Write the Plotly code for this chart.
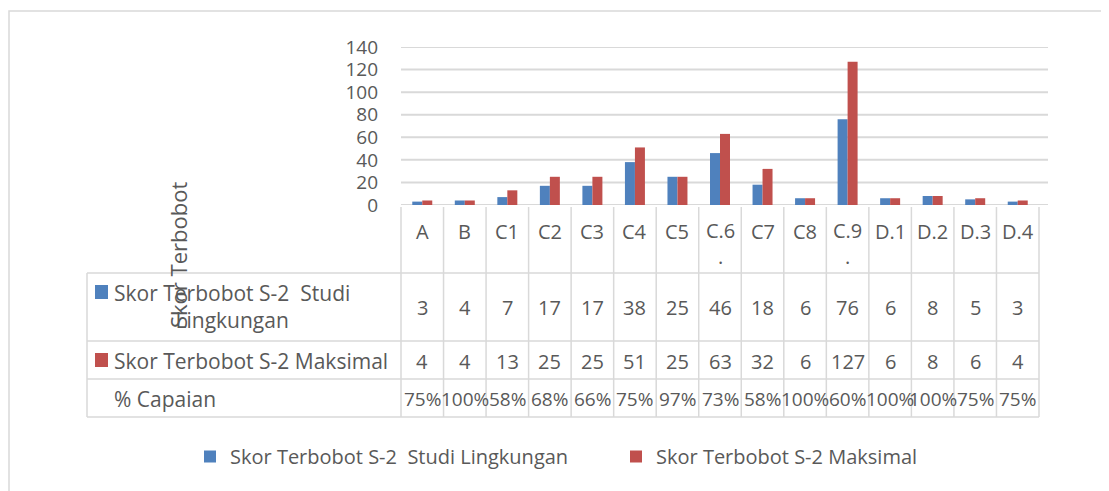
import plotly.graph_objects as go

categories = ["A", "B", "C1", "C2", "C3", "C4", "C5", "C.6<br>.", "C7", "C8", "C.9<br>.", "D.1", "D.2", "D.3", "D.4"]
studi = [3, 4, 7, 17, 17, 38, 25, 46, 18, 6, 76, 6, 8, 5, 3]
maksimal = [4, 4, 13, 25, 25, 51, 25, 63, 32, 6, 127, 6, 8, 6, 4]
capaian = ["75%", "100%", "58%", "68%", "66%", "75%", "97%", "73%", "58%", "100%", "60%", "100%", "100%", "75%", "75%"]
series_names = ["Skor Terbobot S-2  Studi Lingkungan", "Skor Terbobot S-2 Maksimal"]
row_labels = ["Skor Terbobot S-2  Studi<br>Lingkungan", "Skor Terbobot S-2 Maksimal", "% Capaian"]
y_title = "Skor Terbobot"
y_ticks = [0, 20, 40, 60, 80, 100, 120, 140]

BLUE = "#4F81BD"
RED = "#C0504D"
GRID = "#D9D9D9"
TXT = "#595959"
FONT = "Open Sans, Liberation Sans, sans-serif"

OFF = 8              # browser body margin
W, H = 1109 - OFF, 491 - OFF
X0, X1 = 401, 1039   # plot area left/right (reference px)
Y0, Y1 = 205, 47     # y=0 and y=140 (reference px)

def px(x):
    return (x - X0) / (X1 - X0)

def py(y):
    return (Y0 - y) / (Y0 - Y1)

n = len(categories)
xs = list(range(n))

fig = go.Figure()
fig.add_trace(go.Bar(x=xs, y=studi, name=series_names[0], marker=dict(color=BLUE, line=dict(width=0))))
fig.add_trace(go.Bar(x=xs, y=maksimal, name=series_names[1], marker=dict(color=RED, line=dict(width=0))))

shapes = []
annotations = []
line_style = dict(color=GRID, width=1.5)

# chart border
shapes.append(dict(type="rect", xref="paper", yref="paper", x0=px(9), x1=px(1120), y0=py(11), y1=py(500),
                   line=dict(color=GRID, width=1.5), layer="below"))

# gridlines (incl. 3D back wall depth to the right)
for t in y_ticks:
    shapes.append(dict(type="line", xref="paper", yref="y", x0=0, x1=px(1048), y0=t, y1=t,
                       line=dict(color=GRID, width=2), layer="below"))

# table vertical lines
colw = (X1 - X0) / n
for k in range(n + 1):
    xx = X0 + k * colw
    shapes.append(dict(type="line", xref="paper", yref="paper", x0=px(xx), x1=px(xx), y0=py(207), y1=py(417), line=line_style))
# table horizontal lines
for yy in [273, 341, 379, 417]:
    shapes.append(dict(type="line", xref="paper", yref="paper", x0=px(87), x1=px(X1), y0=py(yy), y1=py(yy), line=line_style))
shapes.append(dict(type="line", xref="paper", yref="paper", x0=px(87), x1=px(87), y0=py(273), y1=py(417), line=line_style))

# table legend keys
shapes.append(dict(type="rect", xref="paper", yref="paper", x0=px(95), x1=px(108), y0=py(285), y1=py(299), fillcolor=BLUE, line=dict(width=0)))
shapes.append(dict(type="rect", xref="paper", yref="paper", x0=px(95), x1=px(108), y0=py(353), y1=py(367), fillcolor=RED, line=dict(width=0)))

tf = dict(family=FONT, size=20, color=TXT)
for i, c in enumerate(categories):
    yy = 243 if "<br>" in c else 231
    annotations.append(dict(x=i, xref="x", xanchor="center", y=py(yy), yref="paper", yanchor="middle",
                            text=c, showarrow=False, font=tf, align="center"))
    annotations.append(dict(x=i, xref="x", xanchor="center", y=py(307), yref="paper", yanchor="middle",
                            text=str(studi[i]), showarrow=False, font=tf))
    annotations.append(dict(x=i, xref="x", xanchor="center", y=py(361), yref="paper", yanchor="middle",
                            text=str(maksimal[i]), showarrow=False, font=tf))
    annotations.append(dict(x=i, xref="x", xanchor="center", y=py(399), yref="paper", yanchor="middle",
                            text=capaian[i], showarrow=False, font=dict(family=FONT, size=19, color=TXT)))

lf = dict(family=FONT, size=21, color=TXT)
annotations.append(dict(x=px(112), xref="paper", xanchor="left", y=py(306), yref="paper", yanchor="middle",
                        text=row_labels[0], showarrow=False, font=lf, align="center"))
annotations.append(dict(x=px(112), xref="paper", xanchor="left", y=py(361), yref="paper", yanchor="middle",
                        text=row_labels[1], showarrow=False, font=lf))
annotations.append(dict(x=px(112), xref="paper", xanchor="left", y=py(399), yref="paper", yanchor="middle",
                        text=row_labels[2], showarrow=False, font=lf))
annotations.append(dict(x=px(178), xref="paper", xanchor="center", y=py(255), yref="paper", yanchor="middle",
                        text=y_title, textangle=-90, showarrow=False, font=dict(family=FONT, size=22, color=TXT)))

fig.update_layout(
    width=W, height=H,
    margin=dict(l=X0 - OFF, r=W - (X1 - OFF), t=Y1 - OFF, b=H - (Y0 - OFF), pad=0),
    paper_bgcolor="white", plot_bgcolor="white",
    barmode="group", bargap=0.53, bargroupgap=0,
    font=dict(family=FONT, color=TXT),
    xaxis=dict(range=[-0.5, n - 0.5], showticklabels=False, showgrid=False, zeroline=False, showline=False, fixedrange=True),
    yaxis=dict(range=[0, 140], tickvals=y_ticks, showgrid=False, zeroline=False, showline=False,
               tickfont=dict(family=FONT, size=19, color=TXT), ticklabelstandoff=22),
    legend=dict(orientation="h", x=px(190), xanchor="left", y=py(437), yanchor="top",
                font=dict(family=FONT, size=20, color=TXT), itemwidth=30, entrywidth=381, bgcolor="rgba(0,0,0,0)"),
    shapes=shapes, annotations=annotations,
)

fig.write_html("out.html")
